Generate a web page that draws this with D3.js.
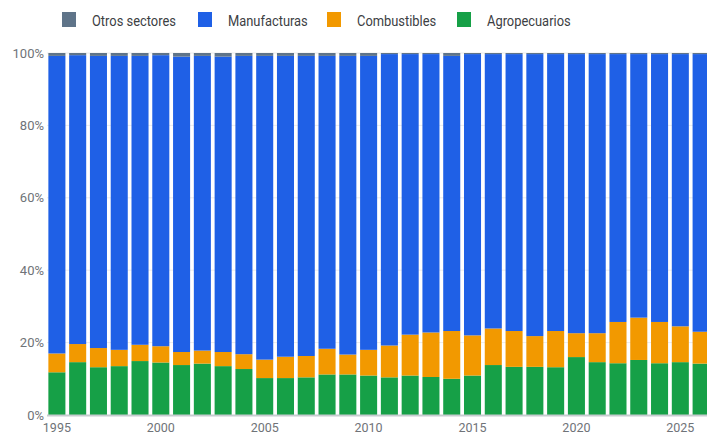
<!DOCTYPE html>
<html>
<head>
<meta charset="utf-8">
<script src="https://cdn.jsdelivr.net/npm/d3@7"></script>
<style>
  body { margin: 0; background: #fff; }
  svg { display: block; font-family: Roboto, "Noto Sans", sans-serif; }
</style>
</head>
<body>
<div id="chart"></div>
<script>
const years = d3.range(1995, 2027);
const agropecuarios = [11.8, 14.6, 13.2, 13.5, 14.9, 14.5, 13.8, 14.2, 13.5, 12.7, 10.2, 10.2, 10.4, 11.2, 11.2, 10.9, 10.4, 10.9, 10.5, 10.0, 10.9, 13.8, 13.3, 13.3, 13.2, 16.0, 14.6, 14.3, 15.2, 14.3, 14.6, 14.2];
const combustibles = [5.2, 5.0, 5.3, 4.5, 4.5, 4.5, 3.6, 3.6, 3.9, 4.1, 5.1, 5.9, 5.9, 7.1, 5.5, 7.1, 8.8, 11.3, 12.3, 13.2, 11.1, 10.1, 9.9, 8.5, 10.0, 6.6, 8.0, 11.4, 11.7, 11.4, 9.9, 8.8];
const otros = [0.8, 0.6, 0.8, 0.8, 0.8, 0.6, 1.0, 0.8, 1.0, 0.8, 0.8, 0.8, 0.8, 0.8, 0.8, 0.8, 0.3, 0.3, 0.3, 0.8, 0.3, 0.3, 0.3, 0.3, 0.3, 0.3, 0.3, 0.3, 0.3, 0.3, 0.3, 0.3];
const manufacturas = years.map((y, i) => 100 - agropecuarios[i] - combustibles[i] - otros[i]);
const yTicks = [0, 20, 40, 60, 80, 100];
const xTicks = [1995, 2000, 2005, 2010, 2015, 2020, 2025];

const series = [
    { key: 'Agropecuarios', values: agropecuarios, color: '#16a047' },
    { key: 'Combustibles', values: combustibles, color: '#f29900' },
    { key: 'Manufacturas', values: manufacturas, color: '#1f60e6' },
    { key: 'Otros sectores', values: otros, color: '#5f7489' }
];
const legendOrder = ['Otros sectores', 'Manufacturas', 'Combustibles', 'Agropecuarios'];

const width = 707;
const height = 434;

const svg = d3.select('#chart')
    .append('svg')
    .attr('width', width)
    .attr('height', height);

const x = d3.scaleBand()
    .domain(years)
    .range([46.5, 711.5])
    .paddingInner(0.18)
    .paddingOuter(0.09);

const y = d3.scaleLinear()
    .domain([0, 100])
    .range([415, 53]);

// gridlines
svg.append('g')
    .selectAll('line')
    .data(yTicks.filter(d => d > 0))
    .enter()
    .append('line')
    .attr('x1', 47)
    .attr('x2', width)
    .attr('y1', d => y(d))
    .attr('y2', d => y(d))
    .attr('stroke', '#ececec')
    .attr('stroke-width', 1);

// stacked bars
const rows = years.map((yr, i) => {
    const r = { year: yr };
    series.forEach(s => { r[s.key] = s.values[i]; });
    return r;
});
const stacked = d3.stack().keys(series.map(s => s.key))(rows);

svg.append('g')
    .selectAll('g')
    .data(stacked)
    .enter()
    .append('g')
    .attr('fill', (d, i) => series[i].color)
    .selectAll('rect')
    .data(d => d)
    .enter()
    .append('rect')
    .attr('x', d => x(d.data.year))
    .attr('width', x.bandwidth())
    .attr('y', d => y(d[1]))
    .attr('height', d => y(d[0]) - y(d[1]));

// baseline
svg.append('line')
    .attr('x1', 47)
    .attr('x2', width)
    .attr('y1', y(0) + 0.5)
    .attr('y2', y(0) + 0.5)
    .attr('stroke', '#c8ccd0')
    .attr('stroke-width', 2);

// y axis labels
svg.append('g')
    .selectAll('text')
    .data(yTicks)
    .enter()
    .append('text')
    .attr('x', 44)
    .attr('y', d => y(d))
    .attr('dy', '0.35em')
    .attr('text-anchor', 'end')
    .style('font-size', '13px')
    .style('fill', '#6f7378')
    .text(d => d + '%');

// x axis labels
svg.append('g')
    .selectAll('text')
    .data(xTicks)
    .enter()
    .append('text')
    .attr('x', d => x(d) + x.bandwidth() / 2)
    .attr('y', 432)
    .attr('text-anchor', 'middle')
    .style('font-size', '12.5px')
    .style('fill', '#6f7378')
    .text(d => d);

// legend - the original face is a bit narrower than Roboto, squeeze to fit
const legendX = [62, 198, 327, 457];
const legend = svg.append('g')
    .selectAll('g')
    .data(legendOrder)
    .enter()
    .append('g')
    .attr('transform', (d, i) => `translate(${legendX[i]},12)`);

legend.append('rect')
    .attr('width', 14)
    .attr('height', 15)
    .attr('fill', d => series.find(s => s.key === d).color);

const labels = legend.append('text')
    .attr('y', 14)
    .style('font-size', '15px')
    .style('fill', '#3c4043')
    .text(d => d);

const squeeze = 84 / labels.nodes()[0].getComputedTextLength();
labels.attr('transform', `translate(30,0) scale(${squeeze},1)`);
</script>
</body>
</html>
